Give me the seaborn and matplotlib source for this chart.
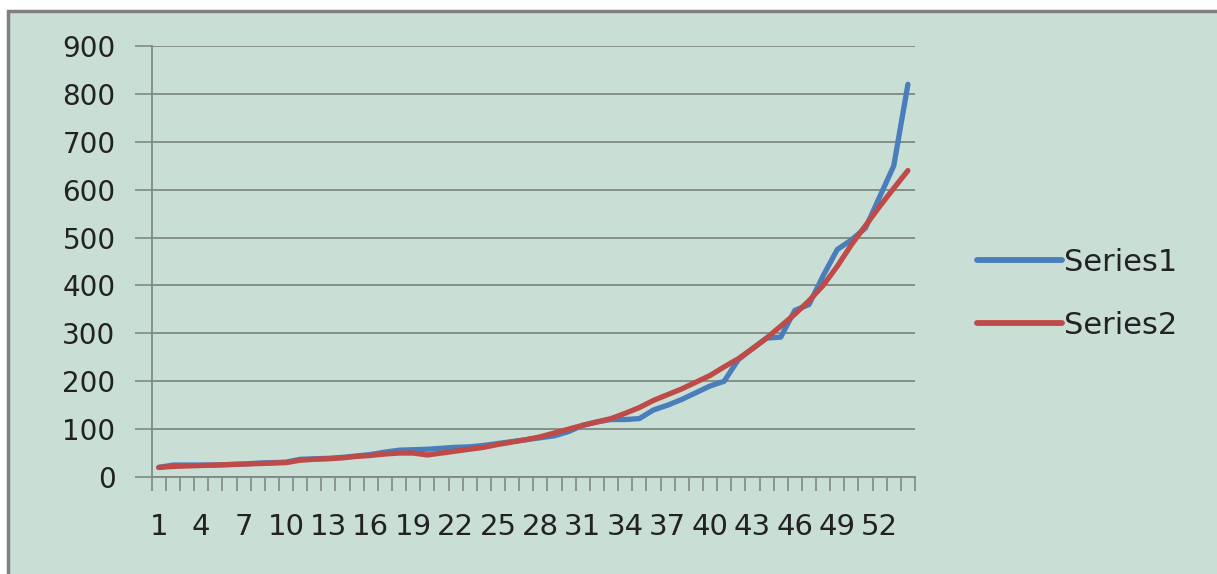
import matplotlib
matplotlib.use('Agg')
import matplotlib.pyplot as plt
import matplotlib.patches as mpatches
import numpy as np
import pandas as pd
import seaborn as sns

# category index 1..54
points = list(range(1, 55))

series1 = [20, 25, 25, 25, 25, 26, 27, 29, 30, 31,
           37, 38, 39, 41, 44, 47, 52, 56, 57, 58,
           60, 62, 63, 66, 70, 74, 78, 82, 86, 95,
           108, 115, 120, 120, 122, 140, 150, 162, 176, 190,
           200, 245, 268, 290, 292, 348, 360, 420, 475, 495,
           520, 585, 650, 820]

series2 = [20, 22, 23, 24, 25, 26, 27, 28, 29, 30,
           35, 37, 38, 40, 43, 45, 48, 50, 50, 46,
           50, 54, 58, 62, 68, 73, 78, 84, 92, 100,
           108, 115, 122, 133, 145, 160, 172, 184, 198, 212,
           230, 247, 268, 290, 315, 340, 368, 400, 440, 485,
           525, 565, 603, 640]

xtick_labels = [str(p) for p in points[::3]]
yticks = list(range(0, 1000, 100))

BG = '#C9DFD6'
GRID = '#7E8A84'
COLORS = {'Series1': '#4A7EBB', 'Series2': '#BE4B48'}

df = pd.DataFrame({'point': points * 2,
                   'value': series1 + series2,
                   'series': ['Series1'] * len(points) + ['Series2'] * len(points)})
df['pos'] = df['point'] - 1  # position on the category axis

sns.set_theme(style='white')
plt.rcParams['font.family'] = ['DejaVu Sans']

W, H = 1217, 574
fig = plt.figure(figsize=(W / 100, H / 100), dpi=100)
fig.patch.set_facecolor('white')
frame = mpatches.Rectangle((8 / W, -0.05), 1.1, 1.05 - 11 / H,
                           transform=fig.transFigure, facecolor=BG,
                           edgecolor='#808080', lw=2.5, zorder=-10)
fig.patches.append(frame)

ax = fig.add_axes([151.7 / W, 1 - 477 / H, (915 - 151.7) / W, (477 - 46) / H])
ax.set_zorder(1)
ax.set_facecolor(BG)

sns.lineplot(data=df, x='pos', y='value', hue='series', palette=COLORS,
             linewidth=3.8, ax=ax, solid_capstyle='round')

ax.set_xlim(-0.5, len(points) - 0.5)
ax.set_ylim(0, 900)
ax.set_yticks(yticks)
ax.set_yticklabels([str(v) for v in yticks])
ax.yaxis.grid(True, color=GRID, lw=1.3)
ax.set_axisbelow(True)

# category labels every 3rd point, ticks at category boundaries
ax.set_xticks(np.arange(0, len(points), 3))
ax.set_xticklabels(xtick_labels)
ax.set_xticks(np.arange(-0.5, len(points), 1), minor=True)
ax.tick_params(axis='x', which='major', bottom=True, length=0, pad=26, labelsize=21,
               labelcolor='#222222')
ax.tick_params(axis='x', which='minor', bottom=True, length=10, width=1.2, color=GRID,
               direction='out')
ax.tick_params(axis='y', left=True, length=12, width=1.2, color=GRID, direction='out',
               pad=14, labelsize=20, labelcolor='#222222')

for side in ['top', 'right']:
    ax.spines[side].set_visible(False)
for side in ['left', 'bottom']:
    ax.spines[side].set_color(GRID)
    ax.spines[side].set_linewidth(1.3)

ax.set_xlabel('')
ax.set_ylabel('')

leg = ax.legend(loc='center left', bbox_to_anchor=(1.045, 0.425), frameon=False,
                fontsize=22, handlelength=2.8, handletextpad=0.05, labelspacing=1.1)
for line in leg.get_lines():
    line.set_linewidth(4.2)
for t in leg.get_texts():
    t.set_color('#222222')

fig.savefig('out.png', dpi=100, facecolor=fig.get_facecolor())
